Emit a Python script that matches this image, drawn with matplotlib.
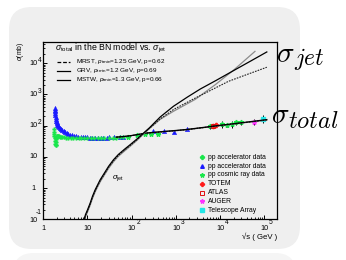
import matplotlib
matplotlib.use("Agg")
import matplotlib.pyplot as plt
from matplotlib.patches import FancyBboxPatch
from matplotlib.ticker import LogLocator, NullFormatter
from matplotlib.transforms import offset_copy

plt.rcParams['font.family'] = ['Liberation Sans', 'DejaVu Sans']
plt.rcParams['mathtext.fontset'] = 'custom'
plt.rcParams['mathtext.rm'] = 'Liberation Sans'
plt.rcParams['mathtext.it'] = 'Liberation Sans:italic'
plt.rcParams['mathtext.sf'] = 'Liberation Sans'

# ---------------- data ----------------
# pbar-p / pp accelerator data (blue triangles)
blue_x = [1.84, 1.85, 1.86, 1.87, 1.88, 1.9, 1.92, 1.95, 2.0, 2.05, 2.1, 2.2, 2.3, 2.4, 2.5, 2.7,
          2.9, 3.1, 3.4, 3.7, 4.0, 4.5, 5.0, 5.5, 6.0, 7.0, 8.0, 9.0, 10, 11.5, 13, 15, 17, 20,
          23, 27, 31, 40, 53, 63, 310, 540, 900, 1800]
blue_y = [370, 330, 290, 250, 220, 190, 165, 145, 130, 118, 108, 98, 90, 84, 79, 71,
          66, 62, 58, 55, 52, 49, 47.5, 46, 45, 44, 43, 42.5, 42, 41.5, 41, 41, 41, 41,
          41, 41.5, 42, 43, 44.5, 45, 66, 70, 64, 78]
# pp accelerator data (green)
green_x = [1.76, 1.77, 1.78, 1.8, 1.82, 1.85, 1.88, 1.9, 1.92, 1.95, 1.98, 2.0, 2.05, 2.1, 2.15,
           2.2, 2.3, 2.4, 2.5, 2.7, 3.0, 3.3, 3.7, 4.2, 4.8, 5.5, 6.3, 7.3, 8.5, 10, 12, 14, 17,
           20, 24, 30, 38, 45, 53, 63]
green_y = [80, 65, 55, 48, 40, 32, 26, 24, 25, 30, 38, 44, 47, 48, 48,
           47, 46, 45, 44, 43, 42, 41.5, 41, 40.5, 40, 40, 39.5, 39, 39, 39, 39, 39, 39,
           39, 39.5, 40, 41, 41.5, 42, 43]
# pp cosmic ray data (green, with error bars)
cr_x = [84, 130, 200, 280, 400, 6000, 11000, 14000, 18000, 23000, 30000]
cr_y = [45, 51, 55, 55, 54, 97, 116, 108, 116, 127, 127]
cr_err = [3, 3, 4, 4, 4, 20, 30, 18, 30, 22, 25]
# TOTEM, ATLAS, AUGER, Telescope Array
totem_x = [7000, 8000]
totem_y = [98.3, 101.7]
atlas_x = [7000]
atlas_y = [95.4]
auger_x = [57000]
auger_y = [133]
auger_err = [29]
ta_x = [95000]
ta_y = [170]
ta_err = [45]

# sigma_total in the BN model (three PDF sets)
tot_x = [45, 70, 100, 220, 500, 1000, 1770, 5000, 10000, 30000, 113000]
tot_mrst = [43, 45, 48, 58, 64, 69.5, 75, 90, 102, 123, 154]
tot_grv = [43.5, 45.5, 48.5, 58, 63.5, 69, 74, 89, 100, 121, 150]
tot_mstw = [43, 45.5, 48.5, 58.5, 65, 70.5, 76, 91, 103, 124, 157]

# sigma_jet curves
jet_x_mstw = [8.4, 9, 10, 11.5, 13, 15, 19.4, 25, 30, 38.7, 50, 70, 92, 130, 185, 250, 440,
              880, 1800, 3560, 8000, 21700, 50000, 113000]
jet_mstw = [0.1, 0.14, 0.2, 0.33, 0.55, 0.9, 1.86, 3.3, 5.0, 8.1, 12, 18, 24.6, 37, 58, 85, 190,
            420, 820, 1500, 2800, 6200, 12000, 23000]
jet_x_grv = [8.4, 9, 10, 11.5, 13, 15, 19.4, 25, 30, 38.7, 50, 70, 92, 130, 185, 250, 440,
             880, 2740, 7700, 20000, 61000]
jet_grv = [0.085, 0.12, 0.17, 0.28, 0.47, 0.77, 1.6, 2.85, 4.3, 7.0, 10.5, 15.8, 21.8, 33.5, 54,
           80, 160, 290, 700, 2050, 6000, 24000]
jet_x_mrst = [8.4, 9, 10, 11.5, 13, 15, 19.4, 25, 30, 38.7, 50, 70, 92, 130, 185, 250, 440,
              880, 2740, 5000, 15400, 40000, 113000]
jet_mrst = [0.092, 0.13, 0.185, 0.305, 0.51, 0.83, 1.72, 3.05, 4.65, 7.5, 11.2, 16.9, 23.2, 35, 56,
            82, 165, 330, 770, 1180, 2640, 4350, 7450]

xticks = [1, 10, 100, 1000, 10000, 100000]
xexp = [0, 1, 2, 3, 4, 5]
yticks = [0.1, 1, 10, 100, 1000, 10000]
yexp = [-1, 0, 1, 2, 3, 4]

legend_lines = ["MRST, $p_{\\rm tmin}$=1.25 GeV, p=0.62",
                "GRV, $p_{\\rm tmin}$=1.2 GeV, p=0.69",
                "MSTW, $p_{\\rm tmin}$=1.3 GeV, p=0.66"]
legend_data = ["pp accelerator data", "pp accelerator data", "pp cosmic ray data",
               "TOTEM", "ATLAS", "AUGER", "Telescope Array"]

# ---------------- figure ----------------
W, H = 346, 260
fig = plt.figure(figsize=(W / 100, H / 100), dpi=100)
fig.patch.set_facecolor('white')

def fx(px):
    return px / W

def fy(py):
    return 1 - py / H

# panels (drawn below the axes)
panel = FancyBboxPatch((fx(9), fy(249)), fx(300) - fx(9), fy(7) - fy(249),
                       boxstyle="round,pad=0,rounding_size=0.065", mutation_aspect=W / H,
                       transform=fig.transFigure, facecolor='#efefef', edgecolor='none', zorder=-5)
fig.patches.append(panel)
panel2 = FancyBboxPatch((fx(13), fy(300)), fx(296) - fx(13), fy(253) - fy(300),
                        boxstyle="round,pad=0,rounding_size=0.06", mutation_aspect=W / H,
                        transform=fig.transFigure, facecolor='#f5f5f5', edgecolor='none', zorder=-5)
fig.patches.append(panel2)

ax = fig.add_axes([fx(43.2), fy(219.4), fx(277.3) - fx(43.2), fy(41.7) - fy(219.4)])
ax.set_zorder(1)
ax.set_facecolor('none')
ax.set_xscale('log')
ax.set_yscale('log')
ax.set_xlim(1, 10 ** 5.29)
ax.set_ylim(0.1, 10 ** 4.69)
for s in ax.spines.values():
    s.set_linewidth(0.9)
ax.xaxis.set_major_locator(LogLocator(base=10, numticks=10))
ax.xaxis.set_minor_locator(LogLocator(base=10, subs=range(2, 10), numticks=20))
ax.yaxis.set_major_locator(LogLocator(base=10, numticks=10))
ax.yaxis.set_minor_locator(LogLocator(base=10, subs=range(2, 10), numticks=20))
ax.xaxis.set_major_formatter(NullFormatter())
ax.xaxis.set_minor_formatter(NullFormatter())
ax.yaxis.set_major_formatter(NullFormatter())
ax.yaxis.set_minor_formatter(NullFormatter())
ax.tick_params(which='major', direction='in', length=3.2, width=0.7, top=False, right=False)
ax.tick_params(which='minor', direction='in', length=1.7, width=0.6, top=False, right=False)

# manual ROOT-like tick labels ("10" with a detached exponent)
fs_tick = 5.2
fs_exp = 4.8
xt = ax.get_xaxis_transform()
yt = ax.get_yaxis_transform()

def xlab(v, s, dx, dy, fs):
    ax.text(v, 0, s, transform=offset_copy(xt, fig=fig, x=dx, y=dy, units='dots'),
            ha='center', va='center', fontsize=fs, clip_on=False)

def ylab(v, s, dx, dy, fs):
    ax.text(0, v, s, transform=offset_copy(yt, fig=fig, x=dx, y=dy, units='dots'),
            ha='right', va='center', fontsize=fs, clip_on=False)

for v, e in zip(xticks, xexp):
    xlab(v, "1" if e == 0 else "10", 0, -9, fs_tick)
    if e >= 2:
        xlab(v, str(e), 6.5, -3.3, fs_exp)
for v, e in zip(yticks, yexp):
    if e == 0:
        ylab(v, "1", -7.5, 0, fs_tick)
        continue
    ylab(v, "10", -6, -1.5 if e < 0 else 0, fs_tick)
    if e >= 2 or e < 0:
        ylab(v, str(e), -2, 6.5 if e < 0 else 3, fs_exp)

# data
ax.plot(blue_x, blue_y, linestyle='none', marker='^', markersize=3.2, color='#1a1aff',
        markeredgewidth=0.3, zorder=3)
ax.plot(green_x, green_y, linestyle='none', marker='P', markersize=2.8, color='#19e64b',
        markeredgewidth=0.2, zorder=3)
ax.errorbar(cr_x, cr_y, yerr=cr_err, linestyle='none', marker='*', markersize=3.4,
            color='#19e64b', ecolor='black', elinewidth=0.7, capsize=0, zorder=4)
ax.plot(totem_x, totem_y, linestyle='none', marker='P', markersize=3.0, color='#ff1a1a', zorder=5)
ax.plot(atlas_x, atlas_y, linestyle='none', marker='s', markersize=2.6, markerfacecolor='none',
        markeredgecolor='#e01010', markeredgewidth=0.7, zorder=5)
ax.errorbar(auger_x, auger_y, yerr=auger_err, linestyle='none', marker='*', markersize=3.5,
            color='#ff33ff', ecolor='black', elinewidth=0.7, capsize=0, zorder=5)
ax.errorbar(ta_x, ta_y, yerr=ta_err, linestyle='none', marker='s', markersize=2.8,
            color='#22e6e6', ecolor='black', elinewidth=0.7, capsize=0, zorder=5)

# model curves
ax.plot(tot_x, tot_grv, color='#888888', lw=0.8, zorder=6)
ax.plot(tot_x, tot_mrst, color='black', lw=0.8, linestyle=(0, (1.5, 1)), zorder=6)
ax.plot(tot_x, tot_mstw, color='black', lw=0.9, zorder=6)
ax.plot(jet_x_grv, jet_grv, color='#8c8c8c', lw=0.9, zorder=6)
ax.plot(jet_x_mrst, jet_mrst, color='#222222', lw=0.8, linestyle=(0, (1.5, 1)), zorder=6)
ax.plot(jet_x_mstw, jet_mstw, color='black', lw=0.9, zorder=6)

ax.text(fx(112), fy(178), r'$\sigma_{\rm jet}$', transform=fig.transFigure, fontsize=5.5,
        ha='left', va='center')

# top-left legend
fs_leg = 4.6
fig.text(fx(55), fy(48.3), r'$\sigma_{\rm total}$ in the BN model vs. $\sigma_{\rm jet}$',
         fontsize=6.3, ha='left', va='center')
leg_y = [61.8, 71.0, 80.2]
styles = [(0, (3, 1.5)), '-', '-']
for txt, yy, ls in zip(legend_lines, leg_y, styles):
    fig.add_artist(plt.Line2D([fx(57), fx(70)], [fy(yy), fy(yy)], color='black', lw=0.9,
                              linestyle=ls, transform=fig.transFigure))
    fig.text(fx(76), fy(yy - 0.5), txt, fontsize=fs_leg, ha='left', va='center')

# bottom-right legend
leg2_y = [157.3, 166.3, 174.5, 183.7, 192.7, 201.3, 210]
mk = [dict(marker='P', color='#19e64b', markersize=2.8),
      dict(marker='^', color='#1a1aff', markersize=2.6),
      dict(marker='*', color='#19e64b', markersize=3.2),
      dict(marker='P', color='#ff1a1a', markersize=2.8),
      dict(marker='s', markerfacecolor='none', markeredgecolor='#e01010', markersize=2.6,
           markeredgewidth=0.7),
      dict(marker='*', color='#ff33ff', markersize=3.2),
      dict(marker='s', color='#22e6e6', markersize=2.8)]
for txt, yy, m in zip(legend_data, leg2_y, mk):
    fig.add_artist(plt.Line2D([fx(202.3)], [fy(yy)], linestyle='none',
                              transform=fig.transFigure, **m))
    fig.text(fx(208), fy(yy), txt, fontsize=4.9, ha='left', va='center')

# axis titles
fig.text(fx(20.5), fy(41.7), r'$\sigma$(mb)', rotation=90, fontsize=4.8, ha='center', va='top')
fig.text(fx(277), fy(236.7), '\u221as ( GeV )', fontsize=5.6, ha='right', va='center')

# big side labels (sigma + enlarged subscript)
fig.text(fx(276), fy(62), r'$\sigma$', fontsize=21, math_fontfamily='cm',
         ha='left', va='baseline')
fig.text(fx(294), fy(65), r'$jet$', fontsize=17, math_fontfamily='cm',
         ha='left', va='baseline')
fig.text(fx(271), fy(123.5), r'$\sigma$', fontsize=21, math_fontfamily='cm',
         ha='left', va='baseline')
fig.text(fx(288), fy(128), r'$total$', fontsize=17.5, math_fontfamily='cm',
         ha='left', va='baseline')

fig.savefig('out.png', dpi=100, facecolor='white')
